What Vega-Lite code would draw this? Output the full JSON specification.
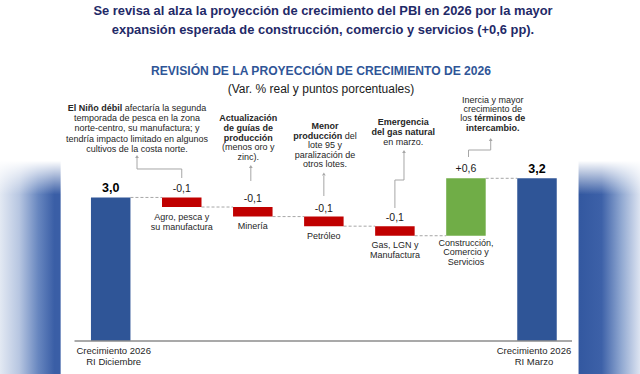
{
"$schema":"https://vega.github.io/schema/vega-lite/v6.json",
"width":640,"height":374,
"autosize":{"type":"fit","contains":"padding"},
"padding":0,
"background":"white",
"config":{"view":{"stroke":null},"axis":{"disable":true},"text":{"font":"Liberation Sans","color":"#262626"}},
"data":{"values":[
 {"cat":"dic","kind":"total","end":3.0,"val":"3,0","label":["Crecimiento 2026","RI Diciembre"]},
 {"cat":"agro","kind":"neg","start":3.0,"end":2.9,"val":"-0,1","label":["Agro, pesca y","su manufactura"]},
 {"cat":"mineria","kind":"neg","start":2.9,"end":2.8,"val":"-0,1","label":["Minería"]},
 {"cat":"petroleo","kind":"neg","start":2.8,"end":2.7,"val":"-0,1","label":["Petróleo"]},
 {"cat":"gas","kind":"neg","start":2.7,"end":2.6,"val":"-0,1","label":["Gas, LGN y","Manufactura"]},
 {"cat":"constr","kind":"pos","start":2.6,"end":3.2,"val":"+0,6","label":["Construcción,","Comercio y","Servicios"]},
 {"cat":"mar","kind":"total","end":3.2,"val":"3,2","label":["Crecimiento 2026","RI Marzo"]}
]},
"layer":[
 {"data":{"values":[{}]},"mark":{"type":"rect","fill":{"gradient":"linear","x1":0,"y1":0,"x2":1,"y2":0,"stops":[
   {"offset":0,"color":"#e3e9f3"},{"offset":0.03,"color":"#b7c6e1"},{"offset":0.06,"color":"#6786bf"},{"offset":0.085,"color":"#3a5ea6"},{"offset":0.094,"color":"#3a5ea6"},{"offset":0.0955,"color":"#ffffff"},
   {"offset":0.903,"color":"#ffffff"},{"offset":0.905,"color":"#3358a0"},{"offset":0.94,"color":"#3d61a8"},{"offset":0.97,"color":"#8ea6d0"},{"offset":1,"color":"#dde4f1"}]}},"encoding":{}},
 {"data":{"values":[{}]},"mark":{"type":"rect","fill":{"gradient":"linear","x1":0,"y1":0,"x2":0,"y2":1,"stops":[
   {"offset":0,"color":"#ffffff"},{"offset":0.43,"color":"#ffffff"},{"offset":0.52,"color":"rgba(255,255,255,0)"},{"offset":1,"color":"rgba(255,255,255,0)"}]}},"encoding":{}},
 {"transform":[{"window":[{"op":"lead","field":"cat","as":"next"}]},{"filter":"datum.next != null"}],
  "mark":{"type":"rule","color":"#a6a6a6","strokeDash":[3,2],"strokeWidth":1},
  "encoding":{
   "x":{"field":"cat","type":"nominal","bandPosition":1,"axis":null,"scale":{"domain":["dic","agro","mineria","petroleo","gas","constr","mar"],"range":[19.9,627.8],"paddingInner":0.444,"paddingOuter":1,"align":0.5}},
   "x2":{"field":"next","bandPosition":0},
   "y":{"field":"end","type":"quantitative","axis":null,"scale":{"domain":[1.1552,5.0632],"zero":false,"nice":false}}}},
 {"transform":[{"filter":"datum.kind == 'total'"}],"mark":{"type":"bar"},
  "encoding":{"x":{"field":"cat","type":"nominal"},"y":{"field":"end","type":"quantitative"},"y2":{"datum":1.5},
   "color":{"field":"kind","type":"nominal","scale":{"domain":["total","neg","pos"],"range":["#2f5597","#c00000","#70ad47"]},"legend":null}}},
 {"transform":[{"filter":"datum.kind != 'total'"}],"mark":{"type":"bar"},
  "encoding":{"x":{"field":"cat","type":"nominal"},"y":{"field":"start","type":"quantitative"},"y2":{"field":"end"},
   "color":{"field":"kind","type":"nominal","legend":null}}},
 {"data":{"values":[{}]},"mark":{"type":"rule","color":"#8c8c8c","strokeWidth":1.3},
  "encoding":{"x":{"datum":"dic","type":"nominal","bandPosition":-0.416},"x2":{"datum":"mar","bandPosition":1.386},"y":{"datum":1.5}}},
 {"transform":[{"filter":"datum.kind == 'total'"}],"mark":{"type":"text","fontSize":12.5,"fontWeight":"bold","baseline":"alphabetic","dy":-5,"color":"#000000"},
  "encoding":{"x":{"field":"cat","type":"nominal"},"y":{"field":"end","type":"quantitative"},"text":{"field":"val"}}},
 {"transform":[{"filter":"datum.kind == 'neg'"}],"mark":{"type":"text","fontSize":10.5,"baseline":"alphabetic","dy":-5,"color":"#1a1a1a"},
  "encoding":{"x":{"field":"cat","type":"nominal"},"y":{"field":"start","type":"quantitative"},"text":{"field":"val"}}},
 {"transform":[{"filter":"datum.kind == 'pos'"}],"mark":{"type":"text","fontSize":10.5,"baseline":"alphabetic","dy":-6,"color":"#1a1a1a"},
  "encoding":{"x":{"field":"cat","type":"nominal"},"y":{"field":"end","type":"quantitative"},"text":{"field":"val"}}},
 {"transform":[{"filter":"datum.kind == 'neg'"}],"mark":{"type":"text","fontSize":9,"baseline":"top","dy":5.5,"lineHeight":10},
  "encoding":{"x":{"field":"cat","type":"nominal"},"y":{"field":"end","type":"quantitative"},"text":{"field":"label"}}},
 {"transform":[{"filter":"datum.kind == 'pos'"}],"mark":{"type":"text","fontSize":9,"baseline":"top","dy":3,"lineHeight":9.7},
  "encoding":{"x":{"field":"cat","type":"nominal"},"y":{"field":"start","type":"quantitative"},"text":{"field":"label"}}},
 {"transform":[{"filter":"datum.cat == 'dic'"}],"mark":{"type":"text","fontSize":9.5,"baseline":"top","dy":5,"dx":3,"lineHeight":11},
  "encoding":{"x":{"field":"cat","type":"nominal"},"y":{"datum":1.5},"text":{"field":"label"}}},
 {"transform":[{"filter":"datum.cat == 'mar'"}],"mark":{"type":"text","fontSize":9.5,"baseline":"top","dy":5,"dx":-3,"lineHeight":11},
  "encoding":{"x":{"field":"cat","type":"nominal"},"y":{"datum":1.5},"text":{"field":"label"}}},

 {"data":{"values":[{"t":["Se revisa al alza la proyección de crecimiento del PBI en 2026 por la mayor","expansión esperada de construcción, comercio y servicios (+0,6 pp)."]}]},
  "mark":{"type":"text","fontSize":12.9,"fontWeight":"bold","color":"#1f2a68","baseline":"top","lineHeight":18.5,"dx":3},
  "encoding":{"y":{"datum":5.0078},"text":{"field":"t"}}},
 {"data":{"values":[{"t":"REVISIÓN DE LA PROYECCIÓN DE CRECIMIENTO DE 2026"}]},
  "mark":{"type":"text","fontSize":12.1,"fontWeight":"bold","color":"#2f5597","baseline":"top","dx":1},
  "encoding":{"y":{"datum":4.3829},"text":{"field":"t"}}},
 {"data":{"values":[{"t":"(Var. % real y puntos porcentuales)"}]},
  "mark":{"type":"text","fontSize":12,"color":"#1a1a1a","baseline":"top","dx":1},
  "encoding":{"y":{"datum":4.1865},"text":{"field":"t"}}},

 {"data":{"values":[{"t":"El Niño débil"}]},"mark":{"type":"text","fontSize":9,"fontWeight":"bold","align":"right","baseline":"top","dx":-59.5},
  "encoding":{"x":{"datum":"agro","type":"nominal"},"y":{"datum":3.9796},"text":{"field":"t"}}},
 {"data":{"values":[{"t":"afectaría la segunda"}]},"mark":{"type":"text","fontSize":9,"align":"left","baseline":"top","dx":-57},
  "encoding":{"x":{"datum":"agro","type":"nominal"},"y":{"datum":3.9796},"text":{"field":"t"}}},
 {"data":{"values":[{"t":["temporada de pesca en la zona","norte-centro, su manufactura; y","tendría impacto limitado en algunos","cultivos de la costa norte."]}]},
  "mark":{"type":"text","fontSize":9,"align":"center","baseline":"top","lineHeight":10.4,"dx":-44.75},
  "encoding":{"x":{"datum":"agro","type":"nominal"},"y":{"datum":3.8709},"text":{"field":"t"}}},

 {"data":{"values":[{"t":["Actualización","de guías de","producción"]}]},"mark":{"type":"text","fontSize":9,"fontWeight":"bold","baseline":"top","lineHeight":9.8,"dx":-4.5},
  "encoding":{"x":{"datum":"mineria","type":"nominal"},"y":{"datum":3.8688},"text":{"field":"t"}}},
 {"data":{"values":[{"t":["(menos oro y","zinc)."]}]},"mark":{"type":"text","fontSize":9,"baseline":"top","lineHeight":10,"dx":-4.5},
  "encoding":{"x":{"datum":"mineria","type":"nominal"},"y":{"datum":3.5658},"text":{"field":"t"}}},

 {"data":{"values":[{"t":"Menor"}]},"mark":{"type":"text","fontSize":9,"fontWeight":"bold","baseline":"top","dx":1.15},
  "encoding":{"x":{"datum":"petroleo","type":"nominal"},"y":{"datum":3.7915},"text":{"field":"t"}}},
 {"data":{"values":[{"t":"producción"}]},"mark":{"type":"text","fontSize":9,"fontWeight":"bold","align":"right","baseline":"top","dx":18.45},
  "encoding":{"x":{"datum":"petroleo","type":"nominal"},"y":{"datum":3.687},"text":{"field":"t"}}},
 {"data":{"values":[{"t":"del"}]},"mark":{"type":"text","fontSize":9,"align":"left","baseline":"top","dx":20.95},
  "encoding":{"x":{"datum":"petroleo","type":"nominal"},"y":{"datum":3.687},"text":{"field":"t"}}},
 {"data":{"values":[{"t":["lote 95 y","paralización de","otros lotes."]}]},"mark":{"type":"text","fontSize":9,"baseline":"top","lineHeight":9.7,"dx":1.15},
  "encoding":{"x":{"datum":"petroleo","type":"nominal"},"y":{"datum":3.5898},"text":{"field":"t"}}},

 {"data":{"values":[{"t":["Emergencia","del gas natural"]}]},"mark":{"type":"text","fontSize":9,"fontWeight":"bold","baseline":"top","lineHeight":10,"dx":8.4},
  "encoding":{"x":{"datum":"gas","type":"nominal"},"y":{"datum":3.827},"text":{"field":"t"}}},
 {"data":{"values":[{"t":"en marzo."}]},"mark":{"type":"text","fontSize":9,"baseline":"top","dx":8.4},
  "encoding":{"x":{"datum":"gas","type":"nominal"},"y":{"datum":3.6181},"text":{"field":"t"}}},

 {"data":{"values":[{"t":["Inercia y mayor","crecimiento de"]}]},"mark":{"type":"text","fontSize":9,"baseline":"top","lineHeight":9.4,"dx":26.75},
  "encoding":{"x":{"datum":"constr","type":"nominal"},"y":{"datum":4.0601},"text":{"field":"t"}}},
 {"data":{"values":[{"t":"los"}]},"mark":{"type":"text","fontSize":9,"align":"right","baseline":"top","dx":5.8},
  "encoding":{"x":{"datum":"constr","type":"nominal"},"y":{"datum":3.8688},"text":{"field":"t"}}},
 {"data":{"values":[{"t":"términos de"}]},"mark":{"type":"text","fontSize":9,"fontWeight":"bold","align":"left","baseline":"top","dx":8.3},
  "encoding":{"x":{"datum":"constr","type":"nominal"},"y":{"datum":3.8688},"text":{"field":"t"}}},
 {"data":{"values":[{"t":"intercambio."}]},"mark":{"type":"text","fontSize":9,"fontWeight":"bold","baseline":"top","dx":26.75},
  "encoding":{"x":{"datum":"constr","type":"nominal"},"y":{"datum":3.7643},"text":{"field":"t"}}},

 {"data":{"values":[{}]},"mark":{"type":"point","shape":"triangle-up","filled":true,"size":14,"color":"#a6a6a6","opacity":1},
  "encoding":{"x":{"datum":"dic","type":"nominal","bandPosition":1.166},"y":{"datum":3.4279}}},
 {"data":{"values":[{}]},"mark":{"type":"rule","color":"#a6a6a6"},
  "encoding":{"x":{"datum":"dic","type":"nominal","bandPosition":1.166},"y":{"datum":3.4122},"y2":{"datum":3.2973}}},
 {"data":{"values":[{}]},"mark":{"type":"rule","color":"#a6a6a6"},
  "encoding":{"x":{"datum":"dic","type":"nominal","bandPosition":1.166},"x2":{"datum":"agro","bandPosition":0.5},"y":{"datum":3.2973}}},
 {"data":{"values":[{}]},"mark":{"type":"rule","color":"#a6a6a6"},
  "encoding":{"x":{"datum":"agro","type":"nominal","bandPosition":0.5},"y":{"datum":3.2973},"y2":{"datum":3.2032}}},

 {"data":{"values":[{}]},"mark":{"type":"point","shape":"triangle-up","filled":true,"size":14,"color":"#a6a6a6","opacity":1},
  "encoding":{"x":{"datum":"mineria","type":"nominal","bandPosition":0.45},"y":{"datum":3.3234}}},
 {"data":{"values":[{}]},"mark":{"type":"rule","color":"#a6a6a6"},
  "encoding":{"x":{"datum":"mineria","type":"nominal","bandPosition":0.45},"y":{"datum":3.3077},"y2":{"datum":3.1719}}},

 {"data":{"values":[{}]},"mark":{"type":"point","shape":"triangle-up","filled":true,"size":14,"color":"#a6a6a6","opacity":1},
  "encoding":{"x":{"datum":"petroleo","type":"nominal","bandPosition":0.5},"y":{"datum":3.245}}},
 {"data":{"values":[{}]},"mark":{"type":"rule","color":"#a6a6a6"},
  "encoding":{"x":{"datum":"petroleo","type":"nominal","bandPosition":0.5},"y":{"datum":3.2241},"y2":{"datum":3.0151}}},

 {"data":{"values":[{}]},"mark":{"type":"point","shape":"triangle-up","filled":true,"size":14,"color":"#a6a6a6","opacity":1},
  "encoding":{"x":{"datum":"gas","type":"nominal","bandPosition":0.73},"y":{"datum":3.4801}}},
 {"data":{"values":[{}]},"mark":{"type":"rule","color":"#a6a6a6"},
  "encoding":{"x":{"datum":"gas","type":"nominal","bandPosition":0.73},"y":{"datum":3.4645},"y2":{"datum":3.1823}}},
 {"data":{"values":[{}]},"mark":{"type":"rule","color":"#a6a6a6"},
  "encoding":{"x":{"datum":"gas","type":"nominal","bandPosition":0.5},"x2":{"datum":"gas","bandPosition":0.73},"y":{"datum":3.1823}}},
 {"data":{"values":[{}]},"mark":{"type":"rule","color":"#a6a6a6"},
  "encoding":{"x":{"datum":"gas","type":"nominal","bandPosition":0.5},"y":{"datum":3.1823},"y2":{"datum":2.8897}}},

 {"data":{"values":[{}]},"mark":{"type":"point","shape":"triangle-up","filled":true,"size":14,"color":"#a6a6a6","opacity":1},
  "encoding":{"x":{"datum":"constr","type":"nominal","bandPosition":1.127},"y":{"datum":3.6055}}},
 {"data":{"values":[{}]},"mark":{"type":"rule","color":"#a6a6a6"},
  "encoding":{"x":{"datum":"constr","type":"nominal","bandPosition":1.127},"y":{"datum":3.5899},"y2":{"datum":3.4958}}},
 {"data":{"values":[{}]},"mark":{"type":"rule","color":"#a6a6a6"},
  "encoding":{"x":{"datum":"constr","type":"nominal","bandPosition":0.565},"x2":{"datum":"constr","bandPosition":1.127},"y":{"datum":3.4958}}},
 {"data":{"values":[{}]},"mark":{"type":"rule","color":"#a6a6a6"},
  "encoding":{"x":{"datum":"constr","type":"nominal","bandPosition":0.565},"y":{"datum":3.4958},"y2":{"datum":3.4227}}}
]
}
